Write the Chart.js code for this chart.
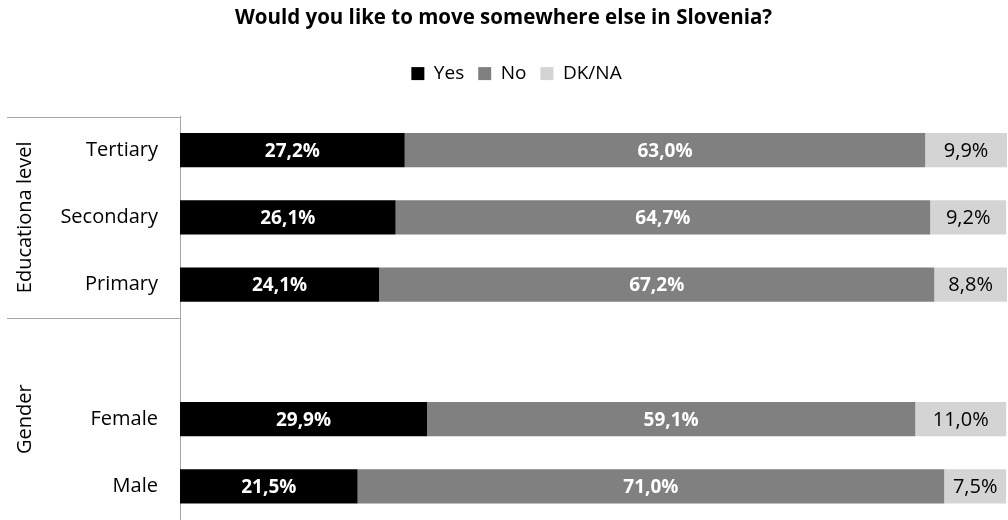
<!DOCTYPE html>
<html>
<head>
<meta charset="utf-8">
<script src="https://cdn.jsdelivr.net/npm/chart.js@4.4.1/dist/chart.umd.min.js"></script>
<style>
  html, body { margin: 0; padding: 0; background: #ffffff; overflow: hidden; }
  canvas { display: block; }
</style>
</head>
<body>
<canvas id="chart" width="1008" height="520"></canvas>
<script>
// Survey answers, percent of respondents per group
const categories = ['Tertiary', 'Secondary', 'Primary', '', 'Female', 'Male'];
const yesValues  = [27.2, 26.1, 24.1, null, 29.9, 21.5];
const noValues   = [63.0, 64.7, 67.2, null, 59.1, 71.0];
const dkValues   = [9.9, 9.2, 8.8, null, 11.0, 7.5];
const seriesNames = ['Yes', 'No', 'DK/NA'];
const groupNames = ['Educationa level', 'Gender'];
const groupStarts = [0, 3];
const groupEnds   = [2, 5];

const FONT = '"Open Sans", sans-serif';
const lineColor = '#a6a6a6';

const fmt = v => v.toFixed(1).replace('.', ',') + '%';

// Value labels centred in each bar segment
const valueLabels = {
  id: 'valueLabels',
  afterDatasetsDraw(chart) {
    const ctx = chart.ctx;
    ctx.save();
    ctx.textAlign = 'center';
    ctx.textBaseline = 'middle';
    chart.data.datasets.forEach((ds, di) => {
      const meta = chart.getDatasetMeta(di);
      meta.data.forEach((bar, i) => {
        const v = ds.data[i];
        if (v === null || v === undefined) return;
        const light = di === 2;
        ctx.fillStyle = light ? '#000000' : '#ffffff';
        ctx.font = light ? '20px ' + FONT : 'bold 19px ' + FONT;
        ctx.fillText(fmt(v), (bar.x + bar.base) / 2, bar.y + 1);
      });
    });
    ctx.restore();
  }
};

// Group captions and separators on the category axis
const groupAxis = {
  id: 'groupAxis',
  afterDraw(chart) {
    const ctx = chart.ctx;
    const y = chart.scales.y;
    const area = chart.chartArea;
    const half = (y.getPixelForValue(1) - y.getPixelForValue(0)) / 2;
    ctx.save();
    ctx.strokeStyle = lineColor;
    ctx.lineWidth = 1;
    groupNames.forEach((name, g) => {
      const top = g === 0 ? area.top : y.getPixelForValue(groupStarts[g]) - half;
      const bottom = Math.min(y.getPixelForValue(groupEnds[g]) + half, area.bottom);
      const yy = Math.round(top) + 0.5;
      ctx.beginPath();
      ctx.moveTo(7, yy);
      ctx.lineTo(area.left, yy);
      ctx.stroke();
      ctx.save();
      ctx.translate(25, (top + bottom) / 2);
      ctx.rotate(-Math.PI / 2);
      ctx.fillStyle = '#000000';
      ctx.font = '20px ' + FONT;
      ctx.textAlign = 'center';
      ctx.textBaseline = 'middle';
      ctx.fillText(name, 0, 0);
      ctx.restore();
    });
    ctx.restore();
  }
};

// Nudge the legend row slightly right of the page centre
const legendOffset = {
  id: 'legendOffset',
  afterLayout(chart) {
    if (chart.legend) chart.legend.left += 26;
  }
};

const colors = ['#000000', '#808080', '#d4d4d4'];
const seriesValues = [yesValues, noValues, dkValues];

new Chart(document.getElementById('chart'), {
  type: 'bar',
  data: {
    labels: categories,
    datasets: seriesNames.map((name, i) => ({
      label: name,
      data: seriesValues[i],
      backgroundColor: colors[i],
      borderWidth: 0,
      categoryPercentage: 1.0,
      barPercentage: 0.51
    }))
  },
  options: {
    indexAxis: 'y',
    responsive: false,
    animation: false,
    layout: { padding: { left: 0, right: 1, top: 0, bottom: -3 } },
    scales: {
      x: {
        stacked: true,
        min: 0,
        max: 100.1,
        display: false
      },
      y: {
        stacked: true,
        grid: { display: false, drawTicks: false },
        border: { display: true, color: lineColor, width: 1 },
        ticks: {
          color: '#000000',
          font: { family: FONT, size: 20 },
          padding: 22
        },
        afterFit(scale) {
          scale.width = 180;
          scale.paddingTop = 0;
          scale.paddingBottom = 0;
        }
      }
    },
    plugins: {
      title: {
        display: true,
        text: 'Would you like to move somewhere else in Slovenia?',
        color: '#000000',
        font: { family: FONT, size: 20.5, weight: 'bold', lineHeight: 1.2 },
        padding: { top: 6, bottom: 19.5 }
      },
      subtitle: {
        display: true,
        text: ' ',
        position: 'top',
        weight: 500,
        font: { size: 10, lineHeight: 2.34 },
        padding: 0
      },
      legend: {
        display: true,
        position: 'top',
        labels: {
          color: '#000000',
          font: { family: FONT, size: 19 },
          boxWidth: 13,
          boxHeight: 13,
          padding: 14
        }
      },
      tooltip: { enabled: false }
    }
  },
  plugins: [valueLabels, groupAxis, legendOffset]
});
</script>
</body>
</html>
